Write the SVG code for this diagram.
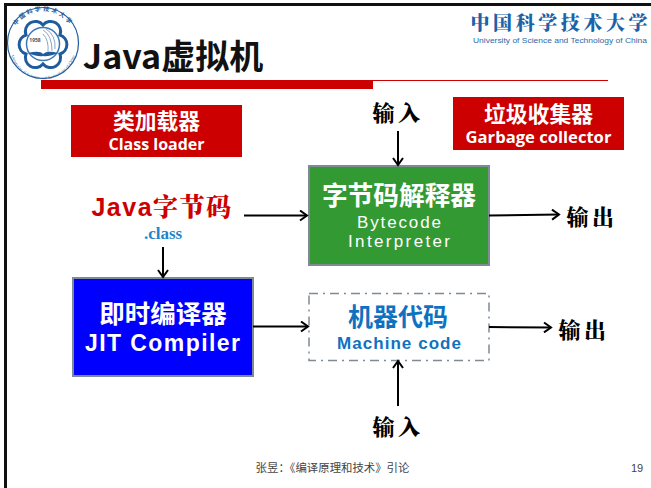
<svg xmlns="http://www.w3.org/2000/svg" width="651" height="488" viewBox="0 0 651 488">
<style>
text{font-family:"Noto Sans","Noto Sans CJK SC",sans-serif;text-anchor:middle}
.cjk{font-family:"Noto Sans CJK SC",sans-serif;font-weight:700}
.w{fill:#fff}
.lat{font-family:"Open Sans","Noto Sans CJK SC",sans-serif;font-weight:700}
.arial{font-family:"Liberation Sans",sans-serif}
.lbl{font-family:"Noto Serif CJK SC","Noto Sans CJK SC",sans-serif;font-weight:900;font-size:22px;fill:#000;letter-spacing:3.500px}
.red{fill:#c00}
.edge{fill:none;stroke:#000;stroke-width:2;marker-end:url(#arr)}
.box{stroke:#7f8a94;stroke-width:2}
</style>
<defs>
<marker id="arr" markerUnits="userSpaceOnUse" markerWidth="10" markerHeight="12" refX="8" refY="6" orient="auto">
<path d="M1 1L8 6L1 11" fill="none" stroke="#000" stroke-width="2"/>
</marker>
</defs>
<rect width="651" height="488" fill="#fff"/>
<g id="frame">
<rect x="4" y="3" width="647" height="3" fill="#111"/>
<rect x="4" y="3" width="3" height="485" fill="#111"/>
</g>
<g id="logo-seal">
<circle cx="43" cy="43" r="35.500" fill="#fff" stroke="#1f5c9e" stroke-width="1.200"/>
<path d="M43 25A10 10 0 0 1 60 35A10 10 0 0 1 60 54A10 10 0 0 1 43 64A10 10 0 0 1 26 54A10 10 0 0 1 26 35A10 10 0 0 1 43 25Z" fill="#fff" stroke="#1f5c9e" stroke-width="3"/>
<circle cx="43" cy="44" r="16.500" fill="#fff" stroke="#3d78b5" stroke-width="1.500"/>
<path d="M28 53Q40 50 43 54Q47 50 58 53Q48 57 43 56Q38 57 28 53Z" fill="#1f5c9e"/>
<path d="M43 30Q52 35 52 51M46 29Q56 35 55 49M43 34Q49 40 48 52" fill="none" stroke="#6c8fb8" stroke-width="0.800"/>
<text x="35" y="42" font-size="5" font-weight="700" fill="#555">1958</text>
<path id="seal-arc" d="M12 35A32 32 0 0 1 74 35" fill="none"/>
<text font-size="6" fill="#1f5c9e" class="cjk" letter-spacing="2"><textPath href="#seal-arc" startOffset="50%">中国科学技术大学</textPath></text>
<path id="seal-arc2" d="M13 46A30 30 0 0 0 73 46" fill="none"/>
<text font-size="4" fill="#1f5c9e" style="font-family:'Liberation Serif',serif"><textPath href="#seal-arc2" startOffset="50%" dominant-baseline="hanging">University of Science and Technology of China</textPath></text>
</g>
<g id="logo-name">
<text x="559" y="30" font-size="19" fill="#1b62a8" style="font-family:'Noto Serif CJK SC','Noto Sans CJK SC',serif;font-weight:900" textLength="177">中国科学技术大学</text>
<text x="560" y="43" font-size="8" fill="#2a6aa8" class="arial" textLength="174" lengthAdjust="spacingAndGlyphs">University of Science and Technology of China</text>
</g>
<g id="title">
<text x="173" y="69" font-size="34" class="cjk" fill="#111">Java虚拟机</text>
<rect class="red" x="41" y="80" width="332" height="9"/>
<rect class="red" x="41" y="80" width="567" height="1"/>
</g>
<g id="class-loader">
<rect class="red" x="71" y="105" width="171" height="52"/>
<text class="cjk w" x="156.500" y="129" font-size="21.800">类加载器</text>
<text class="lat w" x="156.500" y="150" font-size="16">Class loader</text>
</g>
<g id="garbage-collector">
<rect class="red" x="453" y="97" width="171" height="53"/>
<text class="cjk w" x="538.500" y="122" font-size="21.800">垃圾收集器</text>
<text class="lat w" x="538.500" y="143" font-size="16.600">Garbage collector</text>
</g>
<g id="java-bytecode">
<text x="162" y="216" font-size="25" fill="#c00" letter-spacing="1.500" style="font-family:'Noto Serif CJK SC','Noto Sans CJK SC',sans-serif;font-weight:900"><tspan style="font-family:'Liberation Sans',sans-serif;font-weight:700">Java</tspan>字节码</text>
<text x="163" y="239" font-size="17" font-weight="700" fill="#1b86c9" style="font-family:'Liberation Serif',serif">.class</text>
</g>
<g id="interpreter">
<rect class="box" x="309" y="166" width="180" height="99" fill="#339933"/>
<text class="cjk w" x="399" y="205" font-size="25.700">字节码解释器</text>
<text class="arial" x="399" y="228" font-size="17" fill="#fff" textLength="84">Bytecode</text>
<text class="arial" x="399" y="247" font-size="17" fill="#fff" textLength="102">Interpreter</text>
</g>
<g id="jit">
<rect class="box" x="73" y="278" width="180" height="98" fill="#00f"/>
<text class="cjk w" x="163" y="323" font-size="25.500">即时编译器</text>
<text class="arial" x="162.500" y="351" font-size="23" font-weight="700" fill="#fff" textLength="155">JIT Compiler</text>
</g>
<g id="machine-code">
<rect class="box" x="309" y="293.500" width="180" height="67" fill="#fff" stroke-dasharray="9 5 2 5" style="stroke-width:1.500"/>
<text class="cjk" x="398" y="326" font-size="25" fill="#0f72c1">机器代码</text>
<text class="arial" x="399" y="349" font-size="17" font-weight="700" fill="#0f72c1" textLength="124">Machine code</text>
</g>
<g id="labels">
<text class="lbl" x="398" y="121">输入</text>
<text class="lbl" x="592" y="225">输出</text>
<text class="lbl" x="584" y="338">输出</text>
<text class="lbl" x="398" y="435">输入</text>
</g>
<g id="connectors">
<path class="edge" d="M398 131V165"/>
<path class="edge" d="M244 215.500H307"/>
<path class="edge" d="M163 247V277"/>
<path class="edge" d="M489 215.500L559 214.500"/>
<path class="edge" d="M253 326.500H308"/>
<path class="edge" d="M489 327L551 327.500"/>
<path class="edge" d="M398 406V361"/>
</g>
<g id="footer">
<text x="332.500" y="472" font-size="11.400" fill="#444" style="font-family:'Noto Sans CJK SC',sans-serif">张昱：《编译原理和技术》引论</text>
<text x="637" y="472" font-size="11" fill="#444" class="arial">19</text>
</g>
</svg>
